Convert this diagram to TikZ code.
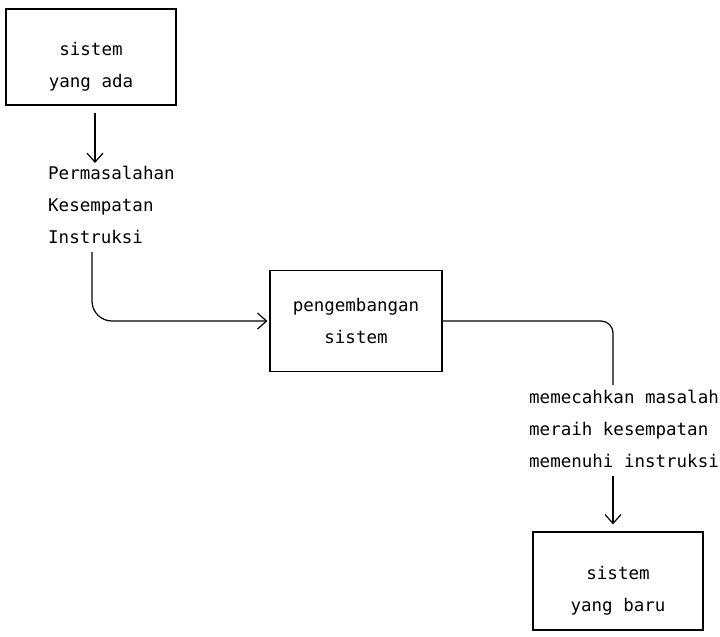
\documentclass[tikz,border=0pt]{standalone}
\usepackage{fontspec}
\setmonofont{DejaVu Sans Mono}
\usetikzlibrary{arrows.meta}
\newcommand{\turun}{\rule{0pt}{33pt}}
\tikzset{
  kotak/.style={draw, line width=1.2pt, minimum width=170pt, minimum height=96pt,
    align=center, font=\ttfamily\fontsize{17.5}{32}\selectfont},
  teks/.style={anchor=north west, inner sep=0pt, align=left,
    font=\ttfamily\fontsize{17.5}{32}\selectfont},
  panah/.style={line width=1.2pt, -{Straight Barb[length=9pt,width=16pt]}},
  garis/.style={line width=1.2pt},
}
\begin{document}
\begin{tikzpicture}[x=1pt,y=-1pt]
  \useasboundingbox (0,0) rectangle (720,637);
  \node[kotak] (ada) at (91,57) {\turun sistem\\yang ada};
  \node[teks] (masalah) at (48,166) {Permasalahan\\Kesempatan\\Instruksi};
  \node[kotak, minimum width=172pt, minimum height=101pt] (kembang) at (356,321) {pengembangan\\sistem};
  \node[teks] (solusi) at (529,390) {memecahkan masalah\\meraih kesempatan\\memenuhi instruksi};
  \node[kotak, minimum height=98pt] (baru) at (618,581) {\turun sistem\\yang baru};

  \coordinate (p1) at ([xshift=4pt,yshift=-7pt]ada.south);
  \coordinate (p2) at ([xshift=44pt,yshift=-8pt]masalah.south west);
  \coordinate (p3) at ([xshift=84pt,yshift=5pt]solusi.north west);
  \coordinate (p4) at ([xshift=84pt,yshift=-8pt]solusi.south west);

  \draw[panah, shorten >=3pt] (p1) -- (p1 |- masalah.north);
  \draw[panah, rounded corners=20pt, shorten >=2pt] (p2) |- (kembang.west);
  \draw[garis, rounded corners=12pt] (kembang.east) -| (p3);
  \draw[panah, shorten >=7pt] (p4) -- (p4 |- baru.north);
\end{tikzpicture}
\end{document}
